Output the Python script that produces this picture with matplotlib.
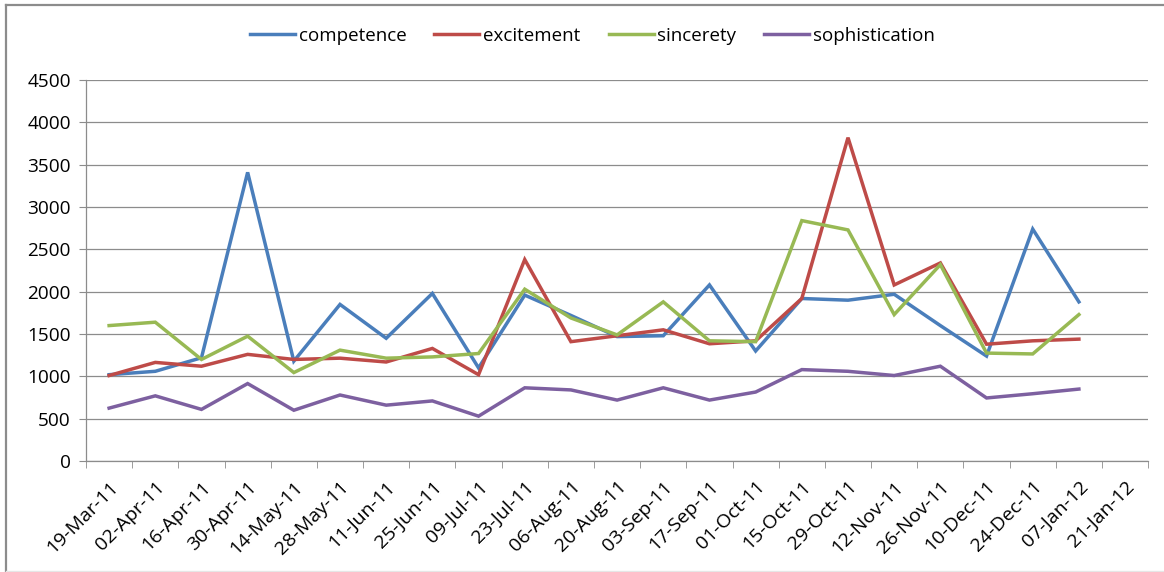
import matplotlib
matplotlib.use("Agg")
import matplotlib.pyplot as plt
from matplotlib.lines import Line2D
import numpy as np

dates = ["19-Mar-11", "02-Apr-11", "16-Apr-11", "30-Apr-11", "14-May-11", "28-May-11",
         "11-Jun-11", "25-Jun-11", "09-Jul-11", "23-Jul-11", "06-Aug-11", "20-Aug-11",
         "03-Sep-11", "17-Sep-11", "01-Oct-11", "15-Oct-11", "29-Oct-11", "12-Nov-11",
         "26-Nov-11", "10-Dec-11", "24-Dec-11", "07-Jan-12", "21-Jan-12"]

competence = [1020, 1060, 1220, 3410, 1180, 1850, 1450, 1980, 1100, 1960, 1720, 1470,
              1480, 2080, 1300, 1920, 1900, 1970, 1600, 1240, 2740, 1880]
excitement = [1010, 1165, 1120, 1260, 1200, 1215, 1170, 1330, 1020, 2380, 1410, 1480,
              1550, 1385, 1420, 1920, 3820, 2080, 2340, 1380, 1420, 1440]
sincerety = [1600, 1640, 1200, 1475, 1045, 1310, 1215, 1230, 1270, 2030, 1690, 1490,
             1880, 1420, 1410, 2840, 2730, 1730, 2320, 1275, 1265, 1730]
sophistication = [625, 770, 610, 915, 600, 780, 660, 710, 530, 865, 840, 720,
                  865, 720, 815, 1080, 1060, 1010, 1120, 745, 795, 850]

series = [("competence", competence, "#4a7ebb"),
          ("excitement", excitement, "#be4b48"),
          ("sincerety", sincerety, "#98b954"),
          ("sophistication", sophistication, "#7d60a0")]

plt.rcParams['font.family'] = ['Open Sans', 'DejaVu Sans']

fig = plt.figure(figsize=(11.64, 5.72), dpi=100)
ax = fig.add_axes([0.0739, 0.194, 0.9125, 0.666])

for name, vals, col in series:
    ax.plot(np.arange(len(vals)), vals, color=col, lw=2.5, label=name,
            solid_joinstyle='miter')

ax.set_xlim(-0.5, len(dates) - 0.5)
ax.set_ylim(0, 4500)
ax.set_yticks(range(0, 4501, 500))
ax.yaxis.grid(True, color='#8c8c8c', lw=0.9)
ax.set_axisbelow(True)

ax.set_xticks(np.arange(len(dates)))
ax.set_xticklabels(dates, rotation=45, ha='right', rotation_mode='anchor', fontsize=14)
ax.set_xticks(np.arange(len(dates) + 1) - 0.5, minor=True)
ax.tick_params(axis='x', which='major', length=0, pad=12)
ax.tick_params(axis='x', which='minor', length=5, color='#8c8c8c')
ax.tick_params(axis='y', length=5, color='#8c8c8c', labelsize=13.7, pad=6)

for s in ['top', 'right']:
    ax.spines[s].set_visible(False)
for s in ['left', 'bottom']:
    ax.spines[s].set_color('#8c8c8c')
    ax.spines[s].set_linewidth(0.9)

fig.legend(loc='center', bbox_to_anchor=(0.509, 1 - 36 / 572), ncol=4, frameon=False,
           fontsize=13.5, handlelength=2.4, handletextpad=0.2, columnspacing=1.5)

# chart frame: top and left edges, faint bottom edge
fig.add_artist(Line2D([0.0055, 1.0], [0.991, 0.991], transform=fig.transFigure,
                      color='#8c8c8c', lw=1.6))
fig.add_artist(Line2D([0.0055, 0.0055], [0.0, 0.991], transform=fig.transFigure,
                      color='#8c8c8c', lw=1.6))
fig.add_artist(Line2D([0.0055, 1.0], [0.002, 0.002], transform=fig.transFigure,
                      color='#e6e6e6', lw=1.0))

fig.savefig("out.png", dpi=100)
